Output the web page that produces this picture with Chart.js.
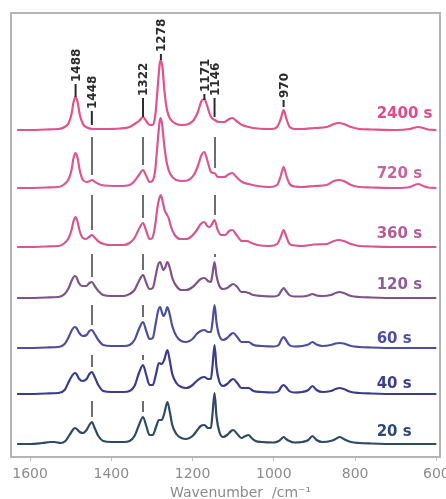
<!DOCTYPE html>
<html>
<head>
<meta charset="utf-8">
<script src="https://cdn.jsdelivr.net/npm/chart.js@4/dist/chart.umd.min.js"></script>
<style>
html,body{margin:0;padding:0;background:#fff;overflow:hidden;}
#c{display:block;}
</style>
</head>
<body>
<canvas id="c" width="446" height="499"></canvas>
<script>
// ---- DATA ----
// Series names (acquisition times), top to bottom
const seriesNames = ['2400 s', '720 s', '360 s', '120 s', '60 s', '40 s', '20 s'];
// Vertical stacking offset of each spectrum (arbitrary intensity units)
const stackOffset = [327, 269, 210, 159, 109, 63, 13];

// Spectra: [wavenumber (cm-1), intensity above own baseline]
const s2400 = [[1632,0],[1600,0],[1560,0.5],[1530,1],[1515,3],[1505,7],[1498,16],[1493,28],[1488,33],[1483,28],[1478,16],[1470,6],[1460,2.5],[1445,1],[1420,1],[1380,1.5],[1355,3],[1343,6],[1332,9],[1322,13],[1314,9],[1306,5],[1299,5],[1292,14],[1286,42],[1281,66],[1278,70],[1274,62],[1269,38],[1263,20],[1255,11],[1240,6],[1225,5],[1210,6],[1197,10],[1187,18],[1178,29],[1171,31],[1164,24],[1156,14],[1146,10],[1135,8],[1122,8],[1110,11],[1102,12],[1092,9],[1078,5],[1062,3],[1040,1.5],[1005,1],[992,3],[983,11],[976,20],[969,11],[961,3],[948,1],[930,1],[900,2],[870,3],[852,6],[840,7],[828,6],[810,3],[790,1],[760,0.5],[700,0],[665,1],[645,3],[632,2],[620,0.5],[600,0]];
const s720 = [[1632,0],[1600,0],[1560,0.5],[1530,1],[1515,4],[1505,9],[1498,18],[1493,30],[1488,35],[1483,30],[1478,18],[1470,8],[1460,6],[1453,7],[1448,8],[1440,6],[1425,3],[1380,2],[1355,3],[1343,7],[1332,13],[1322,18],[1314,12],[1306,6],[1299,7],[1292,18],[1286,46],[1281,67],[1278,70],[1274,60],[1269,40],[1263,24],[1255,14],[1240,8],[1225,7],[1210,8],[1197,13],[1187,22],[1178,33],[1171,36],[1164,28],[1156,17],[1150,15],[1146,15],[1138,11],[1122,11],[1110,14],[1102,15],[1092,11],[1078,6],[1062,4],[1040,2],[1010,1],[992,3],[983,12],[976,21],[969,12],[961,4],[948,1.5],[930,1],[900,2],[870,3],[852,7],[840,8],[828,7],[810,3],[790,1],[760,0.5],[700,0],[665,1],[645,4],[632,2],[620,0.5],[600,0]];
const s360 = [[1632,0],[1600,0],[1560,0.5],[1530,1],[1515,4],[1505,9],[1498,17],[1493,26],[1488,30],[1483,25],[1478,16],[1470,9],[1462,8],[1455,10],[1448,12],[1440,9],[1430,5],[1400,2],[1370,2],[1355,4],[1343,9],[1332,18],[1322,24],[1314,16],[1306,8],[1299,9],[1292,22],[1286,41],[1281,50],[1278,52],[1274,46],[1269,37],[1264,33],[1259,29],[1253,20],[1244,12],[1230,8],[1215,8],[1202,11],[1191,16],[1180,23],[1171,25],[1164,21],[1158,20],[1152,23],[1146,27],[1139,18],[1130,12],[1120,12],[1110,16],[1102,17],[1092,12],[1078,6],[1066,6],[1055,4],[1040,2],[1010,1],[992,3],[983,10],[976,17],[969,10],[961,3],[948,1.5],[930,1],[900,2.5],[870,3],[852,6],[840,7],[828,6],[810,3],[790,1],[760,0.5],[700,0],[600,0]];
const s120 = [[1632,0],[1600,0],[1560,0.5],[1530,1],[1515,4],[1505,10],[1497,18],[1490,22],[1486,21],[1480,15],[1472,12],[1462,12],[1454,15],[1448,16],[1441,12],[1432,7],[1420,3],[1400,2],[1370,2],[1355,4],[1343,8],[1332,17],[1322,23],[1314,15],[1306,9],[1298,10],[1291,22],[1285,33],[1280,36],[1272,28],[1268,30],[1262,36],[1256,30],[1250,20],[1240,12],[1228,8],[1215,8],[1200,11],[1190,15],[1180,19],[1171,20],[1162,17],[1155,16],[1151,24],[1146,36],[1141,22],[1134,12],[1125,9],[1115,10],[1105,13],[1100,14],[1090,11],[1080,6],[1070,6],[1062,5],[1050,3],[1030,2],[1000,1.5],[988,3],[982,7],[976,10],[970,7],[962,3],[950,1.5],[930,1.5],[915,2.5],[905,4],[895,2.5],[880,2],[860,3],[848,5],[838,6],[828,5],[810,2],[790,1],[760,0.5],[700,0],[600,0]];
const s60 = [[1632,0],[1600,0],[1560,0.5],[1530,1],[1515,4],[1505,11],[1497,18],[1490,21],[1486,20],[1479,15],[1471,12],[1461,13],[1454,17],[1448,18],[1441,14],[1432,8],[1420,3],[1400,2],[1370,2],[1355,3],[1343,8],[1332,19],[1322,26],[1314,17],[1306,9],[1298,10],[1291,24],[1285,37],[1280,41],[1272,32],[1267,35],[1262,41],[1256,33],[1250,22],[1240,12],[1228,7],[1215,6],[1200,9],[1190,14],[1180,17],[1171,18],[1162,16],[1155,16],[1151,26],[1146,43],[1141,25],[1134,12],[1125,8],[1115,10],[1105,14],[1100,15],[1090,11],[1080,6],[1070,6],[1062,6],[1050,3],[1030,2],[1000,1.5],[988,3],[982,8],[976,11],[970,8],[962,3],[950,1.5],[930,2],[915,3.5],[905,6],[895,3.5],[880,2],[860,3],[848,4.5],[838,5],[828,4.5],[810,2],[790,1],[760,0.5],[700,0],[600,0]];
const s40 = [[1632,0],[1600,0],[1560,0.5],[1530,1],[1515,4],[1505,12],[1497,18],[1490,21],[1486,20],[1479,15],[1471,13],[1461,15],[1454,20],[1448,22],[1441,17],[1432,9],[1420,3],[1400,2],[1370,2],[1355,3],[1343,8],[1332,21],[1322,29],[1314,19],[1306,9],[1298,9],[1290,20],[1283,31],[1276,30],[1270,34],[1262,44],[1256,33],[1250,20],[1240,11],[1228,7],[1215,6],[1200,9],[1190,13],[1180,16],[1171,17],[1162,15],[1155,15],[1151,28],[1146,49],[1141,26],[1134,12],[1125,8],[1115,10],[1105,14],[1100,15],[1090,11],[1080,6],[1070,6],[1062,6],[1050,3],[1030,2],[1000,1.5],[988,3],[982,7],[976,9],[970,7],[962,3],[950,1.5],[930,2],[915,4],[905,8],[895,4],[880,2],[860,3],[848,5],[838,6],[828,5],[810,2],[790,1],[760,0.5],[700,0],[600,0]];
const s20 = [[1632,0],[1600,0],[1570,1],[1550,2],[1540,2],[1525,1],[1513,3],[1503,9],[1495,14],[1490,16],[1485,15],[1478,12],[1470,11],[1461,14],[1454,19],[1448,22],[1441,16],[1432,8],[1420,3],[1400,2],[1370,2],[1355,3],[1343,8],[1332,19],[1322,27],[1314,18],[1306,9],[1298,9],[1290,17],[1283,24],[1276,24],[1270,30],[1262,42],[1256,32],[1250,19],[1240,10],[1228,6],[1215,5],[1200,8],[1190,13],[1180,18],[1171,19],[1162,16],[1155,16],[1151,30],[1146,51],[1141,27],[1134,12],[1125,7],[1115,9],[1105,13],[1100,14],[1090,10],[1080,6],[1070,8],[1062,9],[1055,6],[1045,3],[1030,2],[1000,1.5],[988,3],[982,5],[976,7],[970,5],[962,3],[950,1.5],[930,2],[915,4],[905,8],[895,4],[880,2],[860,3],[848,5],[838,7],[828,5],[810,2],[790,1],[760,0.5],[700,0],[600,0]];
const spectra = [s2400, s720, s360, s120, s60, s40, s20];

// Band assignments labelled above the top spectrum
const bandLabels = ['1488', '1448', '1322', '1278', '1171', '1146', '970'];
const bandPos    = [1488, 1448, 1322, 1278, 1171, 1146, 976];
// Guide lines through all spectra
const guideBands = [1448, 1322, 1146];
// X axis ticks and title
const xTicks = [600, 800, 1000, 1200, 1400, 1600];
const xTitle = 'Wavenumber  /cm\u207B\u00B9';

// ---- STYLE ----
const lineColors  = ['#e2528c', '#dc5690', '#d65790', '#7f5289', '#4d4f9e', '#3a3c8e', '#2f4a66'];
const labelColors = ['#e2498a', '#c8649a', '#b65a94', '#8e5c98', '#4b4fa8', '#3b3f91', '#2c4a78'];
const labelLift   = [16, 14, 13, 13, 9, 10, 12];
// band label anchors in intensity units: [dash bottom, text start]
const bandAnchor  = [[360,373],[332,346],[340,359],[397,403],[357,363],[340,359],[350,357]];
const FONT = '"DejaVu Sans", Verdana, sans-serif';

const datasets = spectra.map((s, i) => ({
  label: seriesNames[i],
  data: s.map(p => ({x: p[0], y: p[1] + stackOffset[i]})),
  borderColor: lineColors[i],
  borderWidth: 2.2,
  pointRadius: 0,
  cubicInterpolationMode: 'monotone',
  fill: false
}));

function traceAt(i, w) {
  const d = datasets[i].data;
  for (let k = 0; k < d.length - 1; k++) {
    const a = d[k], b = d[k+1];
    if (w <= a.x && w >= b.x) {
      const t = (a.x - w) / (a.x - b.x || 1);
      return a.y + t * (b.y - a.y);
    }
  }
  return stackOffset[i];
}

const decor = {
  id: 'decor',
  beforeDatasetsDraw(chart) {
    const {ctx, scales: {x, y}} = chart;
    ctx.save();
    ctx.strokeStyle = '#6e6e6e';
    ctx.lineWidth = 2;
    guideBands.forEach(w => {
      const px = Math.round(x.getPixelForValue(w));
      for (let i = 0; i < spectra.length - 1; i++) {
        const top = y.getPixelForValue(stackOffset[i]) + 7;
        const bot = y.getPixelForValue(traceAt(i+1, w)) - 5;
        if (bot - top > 3) {
          ctx.beginPath();
          ctx.moveTo(px, top);
          ctx.lineTo(px, bot);
          ctx.stroke();
        }
      }
    });
    ctx.restore();
  },
  afterDatasetsDraw(chart) {
    const {ctx, chartArea: ca, scales: {x, y}} = chart;
    ctx.save();
    // time labels
    ctx.font = 'bold 15px ' + FONT;
    ctx.textAlign = 'left';
    ctx.textBaseline = 'middle';
    seriesNames.forEach((n, i) => {
      ctx.fillStyle = labelColors[i];
      ctx.fillText(n, x.getPixelForValue(747), y.getPixelForValue(stackOffset[i] + labelLift[i]));
    });
    // band labels
    ctx.fillStyle = '#2b2b2b';
    ctx.strokeStyle = '#2b2b2b';
    ctx.lineWidth = 2;
    ctx.font = 'bold 12px ' + FONT;
    bandLabels.forEach((t, k) => {
      const px = x.getPixelForValue(bandPos[k]);
      const yb = y.getPixelForValue(bandAnchor[k][0]);
      const yt = y.getPixelForValue(bandAnchor[k][1]);
      ctx.beginPath();
      ctx.moveTo(px, yb);
      ctx.lineTo(px, yt);
      ctx.stroke();
      ctx.save();
      ctx.translate(px, yt - 2);
      ctx.rotate(-Math.PI / 2);
      ctx.textAlign = 'left';
      ctx.textBaseline = 'middle';
      ctx.fillText(t, 0, 1);
      ctx.restore();
    });
    // frame
    ctx.strokeStyle = '#b4b4b4';
    ctx.lineWidth = 2;
    ctx.strokeRect(ca.left, ca.top, ca.right - ca.left, ca.bottom - ca.top);
    // axis title (slightly right of centre, as in the figure)
    ctx.fillStyle = '#8a8a8a';
    ctx.font = '14px ' + FONT;
    ctx.textAlign = 'center';
    ctx.textBaseline = 'middle';
    ctx.fillText(xTitle, ca.left + (ca.right - ca.left) * 0.535, ca.bottom + 36);
    ctx.restore();
  }
};

new Chart(document.getElementById('c'), {
  type: 'line',
  data: { datasets },
  options: {
    responsive: false,
    animation: false,
    devicePixelRatio: 1,
    layout: { padding: { left: 11, top: 13, right: 6, bottom: 12 } },
    plugins: { legend: { display: false }, tooltip: { enabled: false } },
    scales: {
      x: {
        type: 'linear',
        reverse: true,
        min: 591,
        max: 1647,
        afterBuildTicks: (s) => { s.ticks = xTicks.map(v => ({value: v})); },
        ticks: { color: '#8c8c8c', font: { size: 14, family: FONT, lineHeight: 1 }, padding: 6, maxRotation: 0, callback: v => String(v) },
        grid: { drawOnChartArea: false, tickLength: 4, color: '#c0c0c0', lineWidth: 1 },
        border: { display: false },
        title: { display: false }
      },
      y: { display: false, min: 0, max: 444 }
    }
  },
  plugins: [decor]
});
</script>
</body>
</html>
